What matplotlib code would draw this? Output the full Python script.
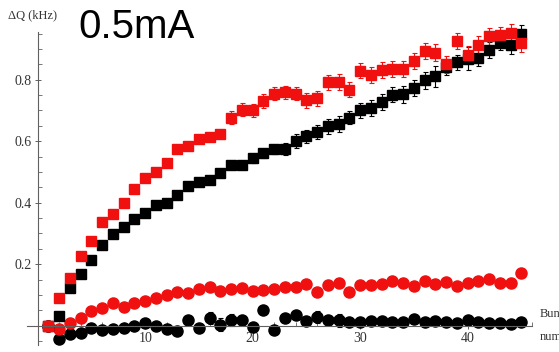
import numpy as np
import matplotlib.pyplot as plt
from matplotlib.ticker import MultipleLocator

# Numero de bunch
bunch = list(range(1, 46))

# Desplazamiento de tune (kHz), cuadrados
sq_red = [0.0, 0.09, 0.155, 0.227, 0.275, 0.336, 0.363, 0.40, 0.445, 0.479,
          0.501, 0.53, 0.575, 0.583, 0.606, 0.614, 0.623, 0.677, 0.703, 0.70,
          0.731, 0.755, 0.759, 0.755, 0.733, 0.739, 0.791, 0.793, 0.768, 0.829,
          0.815, 0.831, 0.835, 0.835, 0.86, 0.894, 0.888, 0.85, 0.926, 0.882,
          0.914, 0.941, 0.945, 0.953, 0.92]
sq_red_err = [0.0, 0.006, 0.006, 0.007, 0.007, 0.008, 0.008, 0.008, 0.009, 0.009,
              0.010, 0.010, 0.012, 0.012, 0.013, 0.013, 0.014, 0.020, 0.020, 0.020,
              0.022, 0.022, 0.022, 0.022, 0.024, 0.024, 0.025, 0.025, 0.025, 0.024,
              0.025, 0.025, 0.026, 0.026, 0.026, 0.027, 0.027, 0.027, 0.027, 0.028,
              0.028, 0.028, 0.028, 0.028, 0.030]

sq_blk = [0.0, 0.031, 0.123, 0.167, 0.215, 0.263, 0.299, 0.32, 0.348, 0.366,
          0.393, 0.40, 0.425, 0.455, 0.467, 0.475, 0.495, 0.521, 0.524, 0.544,
          0.56, 0.573, 0.575, 0.60, 0.616, 0.63, 0.648, 0.656, 0.677, 0.70,
          0.708, 0.729, 0.751, 0.753, 0.774, 0.798, 0.811, 0.842, 0.856, 0.869,
          0.872, 0.898, 0.921, 0.914, 0.95]
sq_blk_err = [0.0, 0.005, 0.006, 0.006, 0.007, 0.007, 0.008, 0.008, 0.008, 0.009,
              0.009, 0.010, 0.010, 0.011, 0.011, 0.012, 0.012, 0.013, 0.013, 0.014,
              0.015, 0.016, 0.020, 0.022, 0.022, 0.024, 0.024, 0.026, 0.022, 0.024,
              0.025, 0.026, 0.025, 0.028, 0.026, 0.027, 0.034, 0.027, 0.026, 0.036,
              0.028, 0.026, 0.025, 0.030, 0.028]

# Circulos
ci_red = [0.0, -0.011, 0.010, 0.025, 0.047, 0.056, 0.072, 0.061, 0.072, 0.080,
          0.090, 0.099, 0.110, 0.107, 0.119, 0.126, 0.112, 0.119, 0.121, 0.112,
          0.116, 0.118, 0.126, 0.127, 0.136, 0.110, 0.132, 0.140, 0.110, 0.132,
          0.132, 0.136, 0.146, 0.140, 0.129, 0.146, 0.135, 0.142, 0.128, 0.140,
          0.146, 0.151, 0.140, 0.140, 0.170]
ci_red_err = [0.0, 0.006, 0.006, 0.006, 0.006, 0.007, 0.007, 0.007, 0.007, 0.008,
              0.008, 0.008, 0.008, 0.008, 0.009, 0.009, 0.009, 0.009, 0.009, 0.009,
              0.010, 0.010, 0.010, 0.010, 0.010, 0.010, 0.010, 0.010, 0.010, 0.010,
              0.010, 0.010, 0.010, 0.010, 0.010, 0.010, 0.010, 0.010, 0.010, 0.010,
              0.010, 0.010, 0.010, 0.010, 0.012]

ci_blk = [0.0, -0.044, -0.027, -0.023, -0.007, -0.015, -0.012, -0.009, -0.001, 0.007,
          -0.002, -0.011, -0.018, 0.018, -0.007, 0.024, 0.003, 0.018, 0.018, -0.003,
          0.050, -0.013, 0.025, 0.034, 0.015, 0.029, 0.019, 0.017, 0.012, 0.012,
          0.014, 0.015, 0.012, 0.012, 0.023, 0.012, 0.015, 0.012, 0.009, 0.019,
          0.012, 0.009, 0.009, 0.005, 0.012]
ci_blk_err = [0.0, 0.008, 0.008, 0.008, 0.008, 0.008, 0.008, 0.008, 0.008, 0.008,
              0.008, 0.008, 0.008, 0.010, 0.010, 0.020, 0.022, 0.020, 0.012, 0.012,
              0.012, 0.012, 0.012, 0.014, 0.012, 0.020, 0.012, 0.020, 0.012, 0.012,
              0.012, 0.012, 0.012, 0.012, 0.012, 0.012, 0.012, 0.012, 0.012, 0.012,
              0.012, 0.012, 0.012, 0.012, 0.012]

y_ticks = [0.2, 0.4, 0.6, 0.8]
x_ticks = [10, 20, 30, 40]

RED = '#f01010'

fig = plt.figure(figsize=(5.59, 3.52), dpi=100)
ax = fig.add_axes([0.0483, 0.0199, 0.9034, 0.889])

def serie(y, err, color, marker, size):
    ax.errorbar(bunch, y, yerr=err, fmt=marker, color=color, ms=size,
                mec=color, mfc=color, ecolor=color, elinewidth=0.8,
                capsize=1.8, capthick=0.8, clip_on=False)

serie(ci_blk, ci_blk_err, 'black', 'o', 8)
serie(ci_red, ci_red_err, RED, 'o', 8)
serie(sq_blk, sq_blk_err, 'black', 's', 7.2)
serie(sq_red, sq_red_err, RED, 's', 7.2)

ax.set_xlim(-1, 46)
ax.set_ylim(-0.063, 0.955)

# Ejes estilo Mathematica cruzando en el origen
for s in ['top', 'right']:
    ax.spines[s].set_visible(False)
ax.spines['left'].set_position(('data', 0))
ax.spines['bottom'].set_position(('data', 0))
for s in ['left', 'bottom']:
    ax.spines[s].set_color('#606060')
    ax.spines[s].set_linewidth(0.8)

ax.set_xticks(x_ticks)
ax.set_yticks(y_ticks)
ax.xaxis.set_minor_locator(MultipleLocator(2))
ax.yaxis.set_minor_locator(MultipleLocator(0.05))
ax.tick_params(which='major', direction='inout', length=5, width=0.7,
               color='#606060', labelsize=10, pad=2)
ax.tick_params(which='minor', direction='in', length=3, width=0.6, color='#606060')
for lab in ax.get_xticklabels() + ax.get_yticklabels():
    lab.set_family('Liberation Serif')
    lab.set_color('#333333')
ax.patch.set_visible(False)

fig.text(8 / 559, 1 - 15 / 352, 'ΔQ (kHz)', family='Liberation Serif',
         fontsize=9, va='center', ha='left', color='#333333')
fig.text(78 / 559, 1 - 27 / 352, '0.5mA', family='Liberation Sans',
         fontsize=29, va='center', ha='left', color='black')
fig.text(540 / 559, 1 - 314 / 352, 'Bunch', family='Liberation Serif',
         fontsize=9, va='center', ha='left', color='#333333')
fig.text(540 / 559, 1 - 337 / 352, 'number', family='Liberation Serif',
         fontsize=9, va='center', ha='left', color='#333333')

fig.savefig('out.png', dpi=100)
